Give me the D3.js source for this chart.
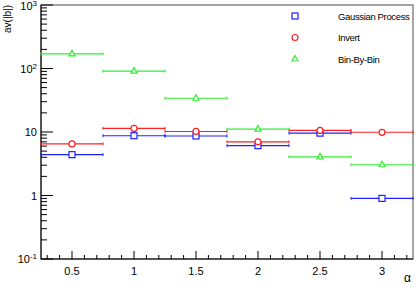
<!DOCTYPE html>
<html>
<head>
<meta charset="utf-8">
<script src="https://cdn.jsdelivr.net/npm/d3@7"></script>
<style>
  body { margin: 0; background: #fff; }
  svg { display: block; font-family: "Liberation Sans", Arial, sans-serif; }
</style>
</head>
<body>
<div id="chart"></div>
<script>
// bin centres (alpha) and bin half width
var alphas = [0.5, 1, 1.5, 2, 2.5, 3];
var halfWidth = 0.25;

// av(|b|) per method
var gaussian = [4.4, 8.75, 8.65, 6.1, 9.6, 0.9];
var invert = [6.5, 11.4, 10.2, 7.0, 10.6, 9.9];
var binByBin = [170, 91, 34, 11.1, 4.06, 3.05];

var seriesNames = ["Gaussian Process", "Invert", "Bin-By-Bin"];
var seriesColors = ["#2020ff", "#ff2020", "#30ee30"];
var seriesShapes = ["square", "circle", "triangle"];

var xTicks = [0.5, 1, 1.5, 2, 2.5, 3];
var yDecades = [0.1, 1, 10, 100, 1000];
var yTickLabels = ["10", "1", "10", "10", "10"];
var yTickExps = ["-1", "", "", "2", "3"];

var width = 419, height = 292;
var margin = { top: 5, right: 6, bottom: 33, left: 41 };

var svg = d3.select("#chart").append("svg")
  .attr("width", width)
  .attr("height", height);

var x = d3.scaleLinear()
  .domain([0.25, 3.25])
  .range([margin.left, width - margin.right]);

var y = d3.scaleLog()
  .domain([0.1, 1000])
  .range([height - margin.bottom, margin.top]);

// frame
svg.append("rect")
  .attr("x", margin.left)
  .attr("y", margin.top)
  .attr("width", width - margin.left - margin.right)
  .attr("height", height - margin.top - margin.bottom)
  .style("fill", "none")
  .style("stroke", "#888")
  .style("stroke-width", 1.5);

// x axis: major every 0.5, minor every 0.1
var xMinor = d3.range(3, 33).map(function (i) { return i / 10; });
var xAxisG = svg.append("g")
  .attr("transform", "translate(0," + (height - margin.bottom) + ")");
xAxisG.selectAll(".minor")
  .data(xMinor)
  .enter().append("line")
  .attr("x1", function (d) { return x(d); })
  .attr("x2", function (d) { return x(d); })
  .attr("y1", 0)
  .attr("y2", function (d) { return Math.abs(d * 2 - Math.round(d * 2)) < 1e-6 ? -8 : -4; })
  .style("stroke", "#000")
  .style("stroke-width", 1);
xAxisG.append("line")
  .attr("x1", margin.left).attr("x2", width - margin.right)
  .style("stroke", "#000");
xAxisG.selectAll(".lab")
  .data(xTicks)
  .enter().append("text")
  .attr("x", function (d) { return x(d); })
  .attr("y", 16)
  .attr("text-anchor", "middle")
  .style("font-size", "11px")
  .text(function (d) { return d; });

svg.append("text")
  .attr("x", width - 8)
  .attr("y", height - 10)
  .attr("text-anchor", "end")
  .style("font-size", "12px")
  .text("α");

// y axis: log, major decades with minor 2..9
var yAxisG = svg.append("g").attr("transform", "translate(" + margin.left + ",0)");
var yMinor = [];
yDecades.slice(0, -1).forEach(function (d) {
  for (var k = 2; k <= 9; k++) yMinor.push(d * k);
});
yAxisG.append("line")
  .attr("y1", margin.top).attr("y2", height - margin.bottom)
  .style("stroke", "#000");
yAxisG.selectAll(".minor")
  .data(yMinor)
  .enter().append("line")
  .attr("x1", 0).attr("x2", 6)
  .attr("y1", function (d) { return y(d); })
  .attr("y2", function (d) { return y(d); })
  .style("stroke", "#000");
yAxisG.selectAll(".major")
  .data(yDecades)
  .enter().append("line")
  .attr("x1", 0).attr("x2", 12)
  .attr("y1", function (d) { return y(d); })
  .attr("y2", function (d) { return y(d); })
  .style("stroke", "#000");
var yLab = yAxisG.selectAll(".lab")
  .data(yDecades)
  .enter().append("text")
  .attr("x", -4)
  .attr("y", function (d) { return Math.max(y(d) + 4, 10); })
  .attr("text-anchor", "end")
  .style("font-size", "11px");
yLab.each(function (d, i) {
  var t = d3.select(this);
  t.append("tspan").text(yTickLabels[i]);
  if (yTickExps[i]) {
    t.append("tspan")
      .attr("dy", -4)
      .style("font-size", "8px")
      .text(yTickExps[i]);
  }
});

svg.append("text")
  .attr("transform", "translate(11," + margin.top + ") rotate(-90)")
  .attr("text-anchor", "end")
  .style("font-size", "10px")
  .text("av(|b|)");

// markers
function drawMarker(g, shape, color, cx, cy) {
  if (shape === "square") {
    g.append("rect")
      .attr("x", cx - 3).attr("y", cy - 3)
      .attr("width", 6).attr("height", 6)
      .style("fill", "#fff").style("stroke", color).style("stroke-width", 1.2);
  } else if (shape === "circle") {
    g.append("circle")
      .attr("cx", cx).attr("cy", cy).attr("r", 3)
      .style("fill", "#fff").style("stroke", color).style("stroke-width", 1.2);
  } else {
    g.append("path")
      .attr("d", "M" + cx + "," + (cy - 3.5) + "L" + (cx + 3) + "," + (cy + 2) + "L" + (cx - 3) + "," + (cy + 2) + "Z")
      .style("fill", "#fff").style("stroke", color).style("stroke-width", 1.2);
  }
}

var allSeries = [gaussian, invert, binByBin];
allSeries.forEach(function (vals, si) {
  var color = seriesColors[si];
  var g = svg.append("g");
  vals.forEach(function (v, i) {
    var a = alphas[i];
    var x0 = x(a - halfWidth), x1 = x(a + halfWidth), yy = y(v);
    g.append("line")
      .attr("x1", x0).attr("x2", x1)
      .attr("y1", yy).attr("y2", yy)
      .style("stroke", color).style("stroke-width", 1.1);
    [x0, x1].forEach(function (xe) {
      g.append("line")
        .attr("x1", xe).attr("x2", xe)
        .attr("y1", yy - 1.5).attr("y2", yy + 1.5)
        .style("stroke", color).style("stroke-width", 1);
    });
    drawMarker(g, seriesShapes[si], color, x(a), yy);
  });
});

// legend
var legend = svg.append("g");
seriesNames.forEach(function (name, i) {
  var ly = 16 + i * 21.5;
  drawMarker(legend, seriesShapes[i], seriesColors[i], 295, ly);
  legend.append("text")
    .attr("x", 338)
    .attr("y", ly + 3.5)
    .style("font-size", "9.5px")
    .style("letter-spacing", "-0.35px")
    .text(name);
});
</script>
</body>
</html>
